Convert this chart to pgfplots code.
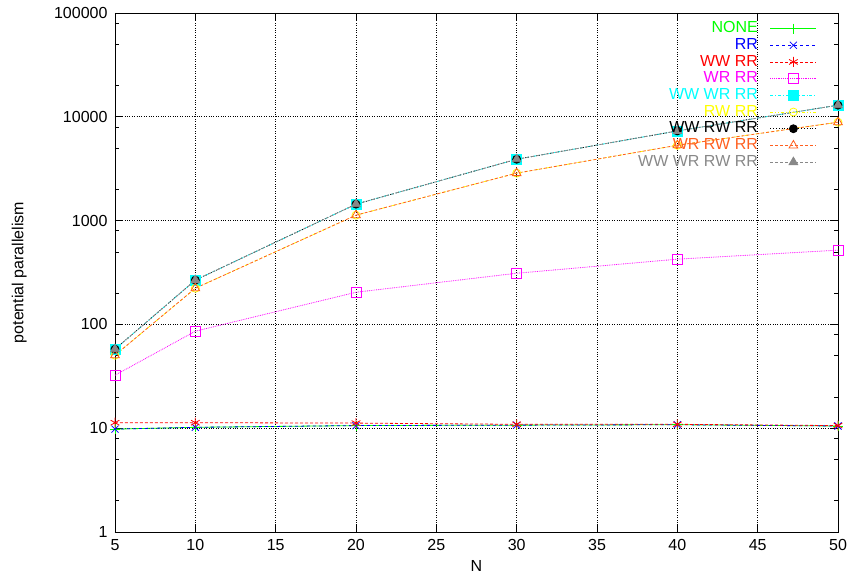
\documentclass[border=0pt]{standalone}
\usepackage{fontspec}
\setmainfont{Liberation Sans}
\usepackage{pgfplots}
\pgfplotsset{compat=1.18}
\definecolor{gpgreen}{RGB}{0,255,0}
\definecolor{gpblue}{RGB}{0,0,255}
\definecolor{gpred}{RGB}{255,0,0}
\definecolor{gpmag}{RGB}{255,0,255}
\definecolor{gpcyan}{RGB}{0,255,255}
\definecolor{gpyellow}{RGB}{255,255,0}
\definecolor{gporange}{RGB}{255,96,32}
\definecolor{gpgray}{RGB}{136,136,136}
\begin{document}
\begin{tikzpicture}
\begin{axis}[
  name=ax,
  scale only axis, width=723pt, height=519pt,
  xmin=5, xmax=50, ymode=log, ymin=1, ymax=100000,
  xtick={5,10,...,50},
  ytick={1,10,100,1000,10000,100000},
  yticklabels={1,10,100,1000,10000,100000},
  minor ytick={2,5,8,20,50,80,200,500,800,2000,5000,8000,20000,50000,80000},
  /pgf/number format/assume math mode=true,
  grid=major, major grid style={black, dotted, line width=0.6pt},
  tick align=inside, major tick length=8pt, minor tick length=4pt,
  tick style={black, line width=0.6pt},
  axis line style={line width=0.8pt},
  font=\fontsize{16}{19}\selectfont,
  xticklabel style={yshift=-4pt},
  yticklabel style={xshift=-4pt},
  xlabel={N}, ylabel={potential parallelism},
  xlabel style={at={(axis description cs:0.5,-0.0655)}, anchor=center},
  ylabel style={at={(axis description cs:-0.1325,0.5)}, anchor=center},
  every axis plot/.append style={line width=0.8pt},
  legend cell align=right, legend plot pos=right,
  legend image code/.code={\draw[mark repeat=2,mark phase=2] plot coordinates {(0pt,0pt)(23pt,0pt)(46pt,0pt)};},
  legend style={draw=none, fill=none, at={(rel axis cs:1,1)}, anchor=north east, xshift=-18pt, yshift=-5pt, row sep=0pt,
    font=\fontsize{16}{18}\selectfont,
    nodes={text height=11.5pt, text depth=3pt, inner sep=1.1pt},
    /tikz/every odd column/.append style={column sep=11pt}},
]
\addplot[gpgreen, solid, mark=+, mark size=5pt] coordinates {(5,9.8)(10,10.2)(20,10.6)(30,10.7)(40,10.8)(50,10.5)};
\addlegendentry{\textcolor{gpgreen}{NONE}}
\addplot[gpblue, dashed, mark=x, mark size=5pt, mark options={solid}] coordinates {(5,9.8)(10,10.2)(20,10.6)(30,10.7)(40,10.8)(50,10.5)};
\addlegendentry{\textcolor{gpblue}{RR}}
\addplot[gpred, densely dashed, mark=asterisk, mark size=5pt, mark options={solid}] coordinates {(5,11.3)(10,11.3)(20,11.2)(30,10.9)(40,10.9)(50,10.6)};
\addlegendentry{\textcolor{gpred}{WW RR}}
\addplot[gpmag, densely dotted, mark=square, mark size=5pt, mark options={solid}] coordinates {(5,32.4)(10,86)(20,204)(30,311)(40,425)(50,519)};
\addlegendentry{\textcolor{gpmag}{WR RR}}
\addplot[gpcyan, dashdotted, mark=square*, mark size=5pt, mark options={solid}] coordinates {(5,57.7)(10,267)(20,1440)(30,3900)(40,7310)(50,12940)};
\addlegendentry{\textcolor{gpcyan}{WW WR RR}}
\addplot[gpyellow, dashdotdotted, mark=o, mark size=4pt, mark options={solid}] coordinates {(5,50.5)(10,223)(20,1128)(30,2866)(40,5320)(50,8870)};
\addlegendentry{\textcolor{gpyellow}{RW RR}}
\addplot[black, dotted, mark=*, mark size=4pt, mark options={solid}] coordinates {(5,57.7)(10,267)(20,1440)(30,3900)(40,7310)(50,12940)};
\addlegendentry{\textcolor{black}{WW RW RR}}
\addplot[gporange, densely dashed, mark=triangle, mark size=5pt, mark options={solid}] coordinates {(5,50.5)(10,223)(20,1128)(30,2866)(40,5320)(50,8870)};
\addlegendentry{\textcolor{gporange}{WR RW RR}}
\addplot[gpgray, densely dashed, mark=triangle*, mark size=5pt, mark options={solid}] coordinates {(5,57.7)(10,267)(20,1440)(30,3900)(40,7310)(50,12940)};
\addlegendentry{\textcolor{gpgray}{WW WR RW RR}}
\end{axis}
\pgfresetboundingbox
\path (ax.south west) ++(-115pt,-49pt) rectangle ([shift={(13pt,13pt)}]ax.north east);
\end{tikzpicture}
\end{document}
